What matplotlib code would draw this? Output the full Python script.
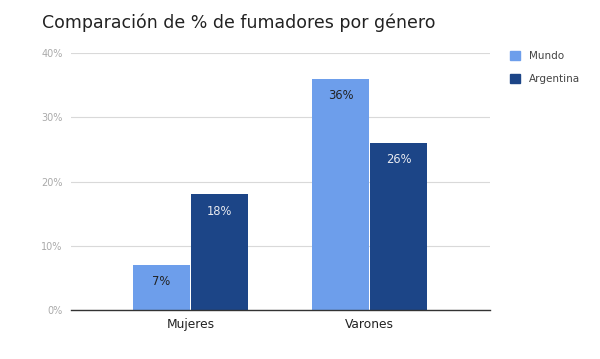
import matplotlib
matplotlib.use("Agg")
import matplotlib.pyplot as plt
from matplotlib.patches import Patch
import numpy as np

categories = ["Mujeres", "Varones"]
series_names = ["Mundo", "Argentina"]
mundo = [7, 36]
argentina = [18, 26]
yticks = [0, 10, 20, 30, 40]

c_mundo = "#6d9eeb"
c_arg = "#1c4587"

fig = plt.figure(figsize=(6, 3.59), dpi=100)
ax = fig.add_axes([71/600, 1-310/359, (490-71)/600, (310-53)/359])

x = np.arange(len(categories))
w = 0.32
b1 = ax.bar(x - w/2 - 0.003, mundo, w, color=c_mundo, zorder=3)
b2 = ax.bar(x + w/2 + 0.003, argentina, w, color=c_arg, zorder=3)

for rect, v in zip(b1, mundo):
    ax.annotate(f"{v}%", (rect.get_x() + rect.get_width()/2, v), xytext=(0, -7.5),
                textcoords="offset points", ha="center", va="top", fontsize=8.3, color="#222222", zorder=4)
for rect, v in zip(b2, argentina):
    ax.annotate(f"{v}%", (rect.get_x() + rect.get_width()/2, v), xytext=(0, -7.5),
                textcoords="offset points", ha="center", va="top", fontsize=8.3, color="#e8eaf0", zorder=4)

ax.set_xlim(-0.668, 1.673)
ax.set_ylim(0, 40)
ax.set_yticks(yticks)
ax.set_yticklabels([f"{t}%" for t in yticks], color="#aaaaaa", fontsize=7)
ax.set_xticks(x)
ax.set_xticklabels(categories, fontsize=8.8, color="#222222")
ax.tick_params(axis="both", length=0)
ax.tick_params(axis="y", pad=6)
ax.tick_params(axis="x", pad=6)
ax.grid(axis="y", color="#d9d9d9", linewidth=0.8, zorder=0)
for s in ["top", "right", "left"]:
    ax.spines[s].set_visible(False)
ax.spines["bottom"].set_color("#333333")
ax.spines["bottom"].set_linewidth(1.0)
ax.spines["bottom"].set_zorder(5)

fig.text(42/600, 1-23/359, "Comparación de % de fumadores por género", fontsize=12.5,
         color="#222222", va="center", ha="left")

handles = [Patch(color=c_mundo), Patch(color=c_arg)]
fig.legend(handles, series_names, loc="upper left", bbox_to_anchor=(501/600, 1-42/359),
           frameon=False, fontsize=7.5, handlelength=0.95, handleheight=0.95,
           labelspacing=1.2, handletextpad=0.8, labelcolor="#444444")

fig.savefig("out.png", dpi=100)
